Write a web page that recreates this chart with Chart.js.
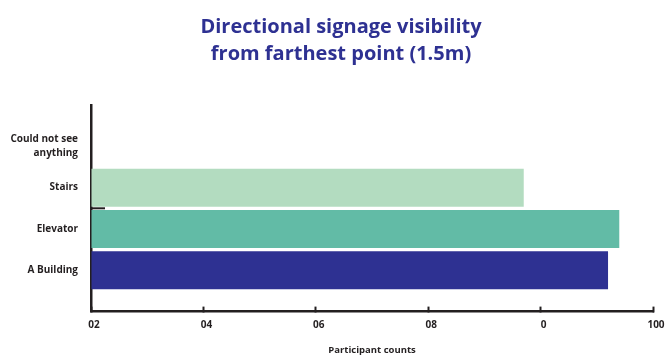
<!DOCTYPE html>
<html>
<head>
<meta charset="utf-8">
<script src="https://cdn.jsdelivr.net/npm/chart.js@4"></script>
<style>
  html, body { margin: 0; padding: 0; background: #fff; }
  #caja { width: 665px; height: 356px; }
</style>
</head>
<body>
<div id="caja"><canvas id="grafico"></canvas></div>
<script>
// categorias de arriba hacia abajo
const categorias = [["Could not see", "anything"], "Stairs", "Elevator", "A Building"]
const valores = [0, 77, 94, 92]
const colores = ["#b3dcc0", "#b3dcc0", "#62bba6", "#2e3192"]
const etiquetas_x = ["02", "04", "06", "08", "0", "100"]
const posicion_marca_y = 2.5

const texto = "#231f20"
const fuente = "'Open Sans', sans-serif"

// rayita suelta sobre el eje Y entre Stairs y Elevator
const marcaEje = {
  id: "marcaEje",
  afterLayout(chart) {
    // el titulo va un poco corrido a la derecha
    if (chart.titleBlock) chart.titleBlock.left += 17
  },
  afterDatasetsDraw(chart) {
    const { ctx, chartArea, scales } = chart
    const y = scales.y.getPixelForValue(posicion_marca_y)
    ctx.save()
    ctx.lineWidth = 2
    ctx.strokeStyle = texto
    ctx.beginPath()
    ctx.moveTo(chartArea.left, y)
    ctx.lineTo(chartArea.left + 14, y)
    ctx.stroke()
    ctx.restore()
  }
}

// cada barra va en y = indice + 1, el eje Y va de 0 a 5
const puntos = valores.map((v, i) => ({ x: v, y: i + 1 }))

const data = {
  type: "bar",
  data: {
    datasets: [{
      data: puntos,
      backgroundColor: colores,
      borderWidth: 0,
      barPercentage: 0.92,
      categoryPercentage: 1
    }]
  },
  options: {
    indexAxis: "y",
    responsive: true,
    maintainAspectRatio: false,
    animation: false,
    layout: { padding: { left: 0, right: 0, top: 0, bottom: 0 } },
    plugins: {
      legend: { display: false },
      tooltip: { enabled: false },
      title: {
        display: true,
        text: ["Directional signage visibility", "from farthest point (1.5m)"],
        color: "#2e3192",
        font: { family: fuente, size: 20, weight: "bold", lineHeight: 1.35 },
        padding: { top: 14, bottom: 37 }
      }
    },
    scales: {
      x: {
        type: "linear",
        min: 0,
        max: 100,
        afterFit: (escala) => { escala.paddingLeft = 0; escala.paddingRight = 12 },
        border: { color: texto, width: 2.5 },
        grid: { drawOnChartArea: false, tickLength: -5, tickColor: texto, tickWidth: 2 },
        ticks: {
          stepSize: 20,
          padding: 13,
          labelOffset: 3,
          color: texto,
          font: { family: fuente, size: 10, weight: "bold" },
          callback: (valor, i) => etiquetas_x[i]
        },
        title: {
          display: true,
          text: "Participant counts",
          color: texto,
          font: { family: fuente, size: 9.5, weight: "bold" },
          padding: { top: 0, bottom: 0 }
        }
      },
      y: {
        type: "linear",
        reverse: true,
        offset: false,
        min: 0,
        max: 5,
        afterFit: (escala) => { escala.width = 91 },
        border: { color: texto, width: 2.5 },
        grid: { drawOnChartArea: false, drawTicks: false },
        ticks: {
          stepSize: 1,
          padding: 13,
          color: texto,
          font: { family: fuente, size: 10, weight: "bold", lineHeight: 1.4 },
          callback: (valor) => (valor >= 1 && valor <= 4) ? categorias[valor - 1] : ""
        }
      }
    }
  },
  plugins: [marcaEje]
}

const canva = document.getElementById("grafico").getContext("2d")
window.miGrafico = new Chart(canva, data)
</script>
</body>
</html>
